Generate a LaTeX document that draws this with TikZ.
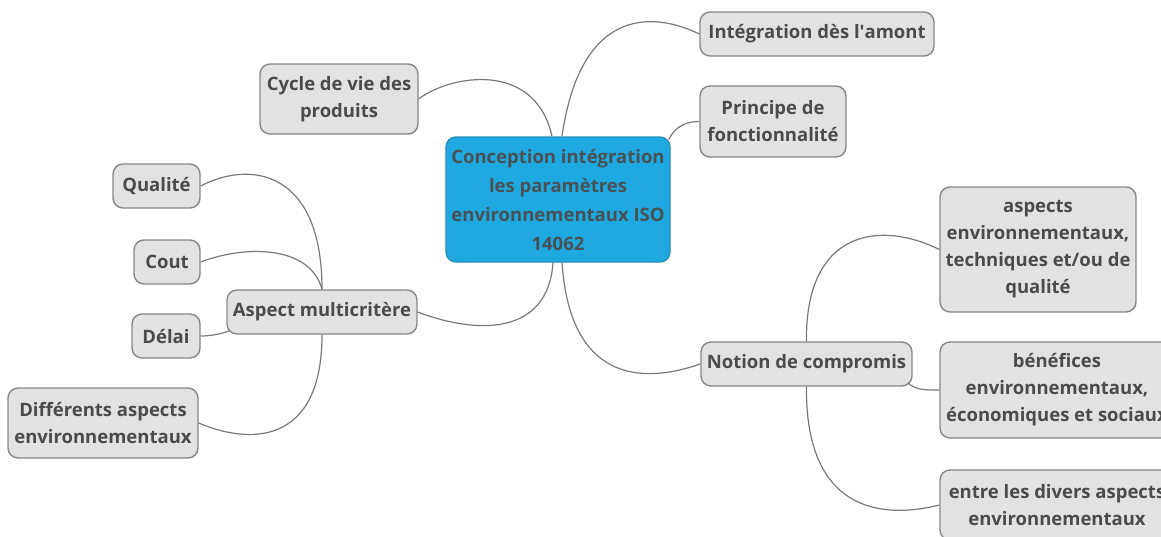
\documentclass[tikz,border=0pt]{standalone}
\usepackage{fontspec}
\setmainfont{Open Sans}[BoldFont={* Bold}]
\definecolor{txt}{HTML}{4B4B4B}
\definecolor{boxfill}{HTML}{E2E2E2}
\definecolor{boxline}{HTML}{878787}
\definecolor{mainfill}{HTML}{20A8E0}
\definecolor{mainline}{HTML}{2A8CBC}
\definecolor{link}{HTML}{7A7A7A}
\tikzset{
  topic/.style={draw=boxline, fill=boxfill, line width=1.4pt, rounded corners=10pt,
    inner sep=0pt, align=center, text=txt,
    font=\fontsize{18.5}{27}\selectfont\bfseries},
  central/.style={topic, draw=mainline, fill=mainfill, text=txt!90!mainline,
    font=\fontsize{18.5}{29}\selectfont\bfseries},
  link/.style={draw=link, line width=1.2pt},
}
\begin{document}
\begin{tikzpicture}[x=1pt,y=-1pt]
\useasboundingbox (0,0) rectangle (1161,536);
% nodes
\node[central, minimum width=224pt, minimum height=125pt] (c) at (558,199.5)
  {Conception intégration\\les paramètres\\environnementaux ISO\\14062};
\node[topic, minimum width=234pt, minimum height=44pt] (int) at (817,34) {Intégration dès l\textquotesingle amont};
\node[topic, minimum width=146pt, minimum height=71pt] (pri) at (773,121.5) {Principe de\\fonctionnalité};
\node[topic, minimum width=158pt, minimum height=70pt] (cyc) at (339,99) {Cycle de vie des\\produits};
\node[topic, minimum width=190pt, minimum height=44pt] (asp) at (322,312) {Aspect multicritère};
\node[topic, minimum width=87pt, minimum height=44pt] (qua) at (156.5,186) {Qualité};
\node[topic, minimum width=66pt, minimum height=44pt] (cou) at (167,262) {Cout};
\node[topic, minimum width=68pt, minimum height=44pt] (del) at (166,336) {Délai};
\node[topic, minimum width=190pt, minimum height=70pt] (dif) at (103,423) {Différents aspects\\environnementaux};
\node[topic, minimum width=211pt, minimum height=44pt] (not) at (806.5,364) {Notion de compromis};
\node[topic, minimum width=196pt, minimum height=125pt] (ast) at (1038,249.5)
  {aspects\\environnementaux,\\techniques et/ou de\\qualité};
\node[topic, minimum width=234pt, minimum height=96pt] (ben) at (1057,390)
  {bénéfices\\environnementaux,\\économiques et sociaux};
\node[topic, minimum width=234pt, minimum height=70pt] (ent) at (1057,505)
  {entre les divers aspects\\environnementaux};
% connectors
\draw[link] ([xshift=-6pt]c.north) .. controls (535,60) and (450,75) .. (cyc.east);
\draw[link] ([xshift=4pt]c.north) .. controls (580,10) and (650,10) .. (int.west);
\draw[link] ([xshift=-2pt,yshift=-3pt]c.north east) .. controls (676,126) and (686,121.5) .. (pri.west);
\draw[link] ([xshift=-5pt]c.south) .. controls (548,335) and (478,335) .. (asp.east);
\draw[link] ([xshift=4pt]c.south) .. controls (570,380) and (640,385) .. (not.west);
\draw[link] (asp.north) .. controls (322,170) and (250,160) .. (qua.east);
\draw[link] (asp.north) .. controls (310,245) and (245,245) .. (cou.east);
\draw[link] ([xshift=3pt,yshift=4pt]asp.south west) .. controls (222,334) and (210,336) .. (del.east);
\draw[link] (asp.south) .. controls (322,445) and (250,445) .. (dif.east);
\draw[link] (not.north) .. controls (805,230) and (880,220) .. (ast.west);
\draw[link] ([xshift=-5pt,yshift=4pt]not.south east) .. controls (915,390) and (925,390) .. (ben.west);
\draw[link] (not.south) .. controls (805,510) and (880,520) .. (ent.west);
\end{tikzpicture}
\end{document}
